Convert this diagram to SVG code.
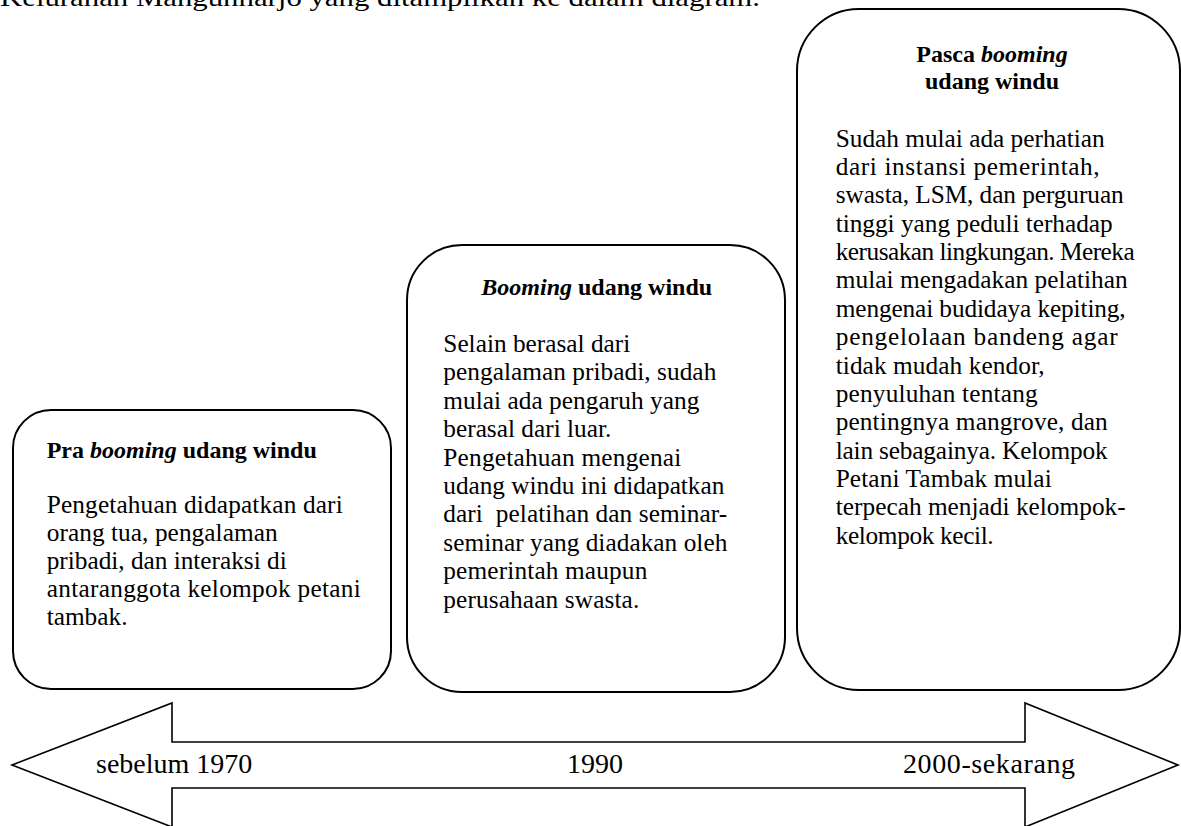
<svg xmlns="http://www.w3.org/2000/svg" width="1181" height="826" viewBox="0 0 1181 826">
<style>
.box{fill:#fff;stroke:#000;stroke-width:2}
.t{font-family:"Liberation Serif","Times New Roman",serif;font-size:25.3px;fill:#000}
.h{font-family:"Liberation Serif","Times New Roman",serif;font-size:24px;font-weight:bold;fill:#000}
.i{font-style:italic}
.lbl{font-family:"Liberation Serif","Times New Roman",serif;font-size:28px;fill:#000}
.arrow{fill:#fff;stroke:#000;stroke-width:1.6;stroke-linejoin:miter}
</style>
<rect width="1181" height="826" fill="#fff"/>
<text class="t" x="0" y="6" font-size="26" textLength="760" lengthAdjust="spacingAndGlyphs">Kelurahan Mangunharjo yang ditampilkan ke dalam diagram.</text>
<g id="connectors">
<path class="arrow" d="M12,765 L172,703 L172,742 L1025,742 L1025,703 L1178,765 L1025,827 L1025,788 L172,788 L172,827 Z"/>
<text class="lbl" x="96" y="773">sebelum 1970</text>
<text class="lbl" x="595" y="773" text-anchor="middle">1990</text>
<text class="lbl" x="903" y="773" textLength="172" lengthAdjust="spacing">2000-sekarang</text>
</g>
<g id="box1">
<rect class="box" x="13" y="410" width="378" height="279" rx="38" ry="38"/>
<text class="h" x="46.7" y="458">Pra <tspan class="i">booming</tspan> udang windu</text>
<text class="t" x="46.7" y="513" textLength="296" lengthAdjust="spacing">Pengetahuan didapatkan dari</text>
<text class="t" x="46.7" y="541" textLength="231" lengthAdjust="spacing">orang tua, pengalaman</text>
<text class="t" x="46.7" y="569" textLength="240" lengthAdjust="spacing">pribadi, dan interaksi di</text>
<text class="t" x="46.7" y="597" textLength="314" lengthAdjust="spacing">antaranggota kelompok petani</text>
<text class="t" x="46.7" y="625">tambak.</text>
</g>
<g id="box2">
<rect class="box" x="407" y="245" width="378" height="447" rx="55" ry="55"/>
<text class="h" x="596.7" y="295" text-anchor="middle"><tspan class="i">Booming</tspan> udang windu</text>
<text class="t" x="443.3" y="352" textLength="187" lengthAdjust="spacing">Selain berasal dari</text>
<text class="t" x="443.3" y="380.4" textLength="273" lengthAdjust="spacing">pengalaman pribadi, sudah</text>
<text class="t" x="443.3" y="408.8" textLength="256" lengthAdjust="spacing">mulai ada pengaruh yang</text>
<text class="t" x="443.3" y="437.2" textLength="168" lengthAdjust="spacing">berasal dari luar.</text>
<text class="t" x="443.3" y="465.6" textLength="238" lengthAdjust="spacing">Pengetahuan mengenai</text>
<text class="t" x="443.3" y="494" textLength="281" lengthAdjust="spacing">udang windu ini didapatkan</text>
<text class="t" x="443.3" y="522.4" xml:space="preserve" textLength="284" lengthAdjust="spacing">dari  pelatihan dan seminar-</text>
<text class="t" x="443.3" y="550.8" textLength="284" lengthAdjust="spacing">seminar yang diadakan oleh</text>
<text class="t" x="443.3" y="579.2" textLength="204" lengthAdjust="spacing">pemerintah maupun</text>
<text class="t" x="443.3" y="607.6" textLength="196" lengthAdjust="spacing">perusahaan swasta.</text>
</g>
<g id="box3">
<rect class="box" x="797" y="9" width="383" height="681" rx="62" ry="62"/>
<text class="h" x="992" y="62" text-anchor="middle">Pasca <tspan class="i">booming</tspan></text>
<text class="h" x="992" y="88.5" text-anchor="middle">udang windu</text>
<text class="t" x="835.7" y="146.7" textLength="269" lengthAdjust="spacing">Sudah mulai ada perhatian</text>
<text class="t" x="835.7" y="175.05" textLength="264" lengthAdjust="spacing">dari instansi pemerintah,</text>
<text class="t" x="835.7" y="203.4" textLength="288" lengthAdjust="spacing">swasta, LSM, dan perguruan</text>
<text class="t" x="835.7" y="231.75" textLength="277" lengthAdjust="spacing">tinggi yang peduli terhadap</text>
<text class="t" x="835.7" y="260.1" textLength="299" lengthAdjust="spacing">kerusakan lingkungan. Mereka</text>
<text class="t" x="835.7" y="288.45" textLength="292" lengthAdjust="spacing">mulai mengadakan pelatihan</text>
<text class="t" x="835.7" y="316.8" textLength="290" lengthAdjust="spacing">mengenai budidaya kepiting,</text>
<text class="t" x="835.7" y="345.15" textLength="282" lengthAdjust="spacing">pengelolaan bandeng agar</text>
<text class="t" x="835.7" y="373.5" textLength="209" lengthAdjust="spacing">tidak mudah kendor,</text>
<text class="t" x="835.7" y="401.85" textLength="202" lengthAdjust="spacing">penyuluhan tentang</text>
<text class="t" x="835.7" y="430.2" textLength="272" lengthAdjust="spacing">pentingnya mangrove, dan</text>
<text class="t" x="835.7" y="458.55" textLength="272" lengthAdjust="spacing">lain sebagainya. Kelompok</text>
<text class="t" x="835.7" y="486.9" textLength="216" lengthAdjust="spacing">Petani Tambak mulai</text>
<text class="t" x="835.7" y="515.25" textLength="290" lengthAdjust="spacing">terpecah menjadi kelompok-</text>
<text class="t" x="835.7" y="543.6" textLength="158" lengthAdjust="spacing">kelompok kecil.</text>
</g>
</svg>
